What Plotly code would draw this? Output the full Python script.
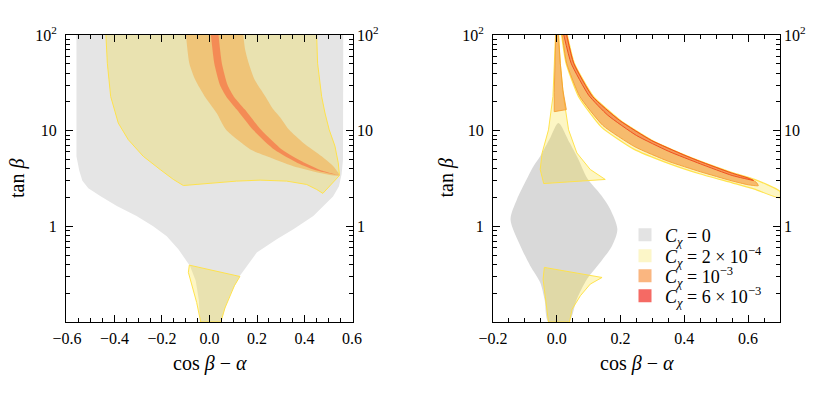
import plotly.graph_objects as go

# ---------------- data: left panel (cos(beta-alpha), tan beta) ----------------
L_GRAY_X = [-0.56, -0.56, -0.548, -0.535, -0.51, -0.46, -0.39, -0.307, -0.237, -0.18, -0.131, -0.082,
            -0.058, -0.045, -0.04, 0.048, 0.07, 0.09, 0.128, 0.157, 0.199, 0.283, 0.353, 0.437, 0.49,
            0.52, 0.545, 0.556, 0.562, 0.563]
L_GRAY_Y = [100, 5.4, 3.8, 3.0, 2.5, 2.07, 1.63, 1.28, 1.0, 0.79, 0.575, 0.386,
            0.27, 0.17, 0.1, 0.1, 0.15, 0.2, 0.304, 0.386, 0.532, 0.733, 0.93, 1.28, 1.75,
            2.05, 2.63, 3.5, 5.0, 100]

L_YEL_TOP_X = [-0.436, -0.43, -0.416, -0.384, -0.342, -0.279, -0.208, -0.152, -0.110, 0.002, 0.114,
               0.213, 0.325, 0.409, 0.451, 0.477, 0.547, 0.542, 0.528, 0.504, 0.486, 0.472, 0.462,
               0.455, 0.451]
L_YEL_TOP_Y = [100, 50.7, 22.8, 12.0, 8.06, 5.4, 3.93, 3.09, 2.67, 2.81, 2.97,
               3.04, 2.97, 2.74, 2.43, 2.21, 3.40, 4.6, 6.9, 10.2, 15.3, 22.8, 34,
               50.7, 100]

L_YEL_BOT_X = [-0.085, 0.128, 0.105, 0.086, 0.065, 0.048, -0.037, -0.054, -0.075, -0.089, -0.085]
L_YEL_BOT_Y = [0.393, 0.299, 0.24, 0.188, 0.14, 0.1, 0.1, 0.16, 0.239, 0.33, 0.393]

L_ORA_X = [-0.099, -0.085, -0.06, -0.02, 0.03, 0.07, 0.175, 0.241, 0.353, 0.465, 0.547,
           0.521, 0.472, 0.395, 0.335, 0.30, 0.269, 0.235, 0.19, 0.165, 0.15, 0.142]
L_ORA_Y = [100, 50.7, 34, 22.8, 15.3, 10.2, 6.3, 5.4, 4.25, 3.62, 3.4,
           4.25, 5.4, 7.45, 10.2, 13.5, 16.6, 22.8, 34, 50.7, 70, 100]

L_RED_X = [0.006, 0.02, 0.044, 0.07, 0.115, 0.183, 0.274, 0.37, 0.456, 0.547,
           0.468, 0.39, 0.306, 0.217, 0.149, 0.102, 0.076, 0.052, 0.038]
L_RED_Y = [100, 50.7, 30, 22.8, 16.6, 10.2, 6.3, 4.6, 3.8, 3.4,
           3.85, 4.75, 6.3, 10.2, 16.6, 22.8, 30, 50.7, 100]

# ---------------- data: right panel ----------------
R_GRAY_X = [0.005, -0.02, -0.052, -0.073, -0.1, -0.125, -0.145, -0.114, -0.083, -0.052, -0.038, -0.026,
            0.037, 0.063, 0.095, 0.136, 0.173, 0.19, 0.168, 0.14, 0.095, 0.068, 0.04, 0.005]
R_GRAY_Y = [12, 8.5, 5.4, 4.25, 2.85, 1.91, 1.18, 0.624, 0.386, 0.259, 0.17, 0.1,
            0.1, 0.174, 0.281, 0.419, 0.624, 0.93, 1.5, 2.1, 3.2, 5.0, 7.5, 12]

R_YEL_SPIKE_X = [-0.004, -0.007, -0.012, -0.026, -0.046, -0.052, -0.041, 0.152, 0.105, 0.063, 0.037,
                 0.021, 0.011, 0.006]
R_YEL_SPIKE_Y = [100, 50.7, 22.8, 10.2, 5.85, 3.93, 2.8, 3.09, 3.93, 5.85, 10.2, 22.8, 50.7, 100]

R_YEL_LOW_X = [-0.039, 0.142, 0.105, 0.074, 0.048, 0.04, -0.026, -0.036, -0.043, -0.039]
R_YEL_LOW_Y = [0.372, 0.292, 0.249, 0.188, 0.136, 0.1, 0.1, 0.186, 0.28, 0.372]

R_ORA_SPIKE_X = [-0.003, -0.006, -0.008, -0.008, 0.03, 0.019, 0.011, 0.005]
R_ORA_SPIKE_Y = [100, 50, 25, 15.8, 16.6, 26.7, 50.7, 100]

R_YEL_BAND_X = [0.033, 0.055, 0.115, 0.2, 0.3, 0.4, 0.45, 0.55, 0.62, 0.70,
                0.70, 0.62, 0.55, 0.45, 0.35, 0.24, 0.14, 0.068, 0.029, 0.015]
R_YEL_BAND_Y = [100, 50.7, 22.8, 12.8, 7.9, 5.6, 4.8, 3.65, 3.1, 2.32,
                1.98, 2.45, 2.85, 3.52, 4.55, 6.45, 10.9, 22.8, 50.7, 100]

R_ORA_BAND_X = [0.031, 0.053, 0.112, 0.197, 0.297, 0.397, 0.447, 0.547, 0.60, 0.625, 0.632,
                0.60, 0.55, 0.45, 0.35, 0.245, 0.145, 0.072, 0.031, 0.017]
R_ORA_BAND_Y = [100, 50.7, 22.8, 12.8, 7.9, 5.6, 4.8, 3.62, 3.18, 2.9, 2.66,
                2.72, 2.98, 3.72, 4.78, 6.78, 11.3, 22.8, 50.7, 100]

R_RED_BAND_X = [0.031, 0.053, 0.112, 0.197, 0.297, 0.397, 0.447, 0.547, 0.60, 0.617,
                0.55, 0.45, 0.35, 0.25, 0.16, 0.1, 0.045, 0.022]
R_RED_BAND_Y = [100, 50.7, 22.8, 12.8, 7.9, 5.6, 4.8, 3.62, 3.2, 3.02,
                3.4, 4.5, 6.1, 8.9, 14.5, 23.5, 50.7, 100]

# ---------------- ticks / labels ----------------
Y_TICKS = [0.1, 1, 10, 100]
Y_TICKTEXT = [" ", "1", "10", "10<sup>2</sup>"]
Y_MINOR = [m * 10.0 ** e for e in (-1, 0, 1) for m in range(2, 10)]
L_XTICKS = [-0.6, -0.4, -0.2, 0.0, 0.2, 0.4, 0.6]
L_XTICKTEXT = ["\u22120.6", "\u22120.4", "\u22120.2", "0.0", "0.2", "0.4", "0.6"]
R_XTICKS = [-0.2, 0.0, 0.2, 0.4, 0.6]
R_XTICKTEXT = ["\u22120.2", "0.0", "0.2", "0.4", "0.6"]
LEGEND_NAMES = ["<i>C</i><sub><i>\u03c7</i></sub> = 0",
                "<i>C</i><sub><i>\u03c7</i></sub> = 2 \u00d7 10<sup>\u22124</sup>",
                "<i>C</i><sub><i>\u03c7</i></sub> = 10<sup>\u22123</sup>",
                "<i>C</i><sub><i>\u03c7</i></sub> = 6 \u00d7 10<sup>\u22123</sup>"]
LEGEND_COLORS = ["rgb(227,227,227)", "rgb(252,246,200)", "rgb(250,182,128)", "rgb(245,106,100)"]
LEGEND_ROWS = [235, 256, 276, 296]

FONT = "Times New Roman"
NOLINE = "rgba(0,0,0,0)"
YEL_FILL = "rgba(248,220,20,0.25)"
YEL_LINE = "rgba(255,226,70,0.95)"
ORA_FILL = "rgba(246,165,63,0.5)"
ORA_FILL_R = "rgba(242,150,55,0.62)"
RED_FILL = "rgba(247,116,70,0.7)"
RED_FILL_R = "rgba(240,95,45,0.35)"

fig = go.Figure()


def region(x, y, fill, line, xa, ya, width=1.0, shape="linear", smoothing=1.0):
    fig.add_trace(go.Scatter(x=x, y=y, fill="toself", fillcolor=fill, mode="lines",
                             line=dict(color=line, width=width, shape=shape, smoothing=smoothing),
                             xaxis=xa, yaxis=ya, showlegend=False, hoverinfo="skip"))


# left panel
region(L_GRAY_X, L_GRAY_Y, "rgb(229,229,229)", NOLINE, "x", "y", 0)
region(L_YEL_TOP_X, L_YEL_TOP_Y, YEL_FILL, YEL_LINE, "x", "y", 1)
region(L_YEL_BOT_X, L_YEL_BOT_Y, YEL_FILL, YEL_LINE, "x", "y", 1)
region(L_ORA_X, L_ORA_Y, ORA_FILL, NOLINE, "x", "y", 0, "spline", 0.6)
region(L_RED_X, L_RED_Y, RED_FILL, NOLINE, "x", "y", 0, "spline", 0.6)

# right panel
region(R_GRAY_X, R_GRAY_Y, "rgb(217,217,217)", NOLINE, "x2", "y2", 0, "spline", 0.8)
region(R_YEL_SPIKE_X, R_YEL_SPIKE_Y, YEL_FILL, YEL_LINE, "x2", "y2", 1)
region(R_YEL_LOW_X, R_YEL_LOW_Y, YEL_FILL, YEL_LINE, "x2", "y2", 1)
region(R_ORA_SPIKE_X, R_ORA_SPIKE_Y, ORA_FILL_R, "rgba(245,160,50,0.9)", "x2", "y2", 1)
region(R_YEL_BAND_X, R_YEL_BAND_Y, YEL_FILL, YEL_LINE, "x2", "y2", 1.2, "spline", 0.5)
region(R_ORA_BAND_X, R_ORA_BAND_Y, ORA_FILL_R, "rgba(245,160,50,0.9)", "x2", "y2", 1, "spline", 0.5)
region(R_RED_BAND_X, R_RED_BAND_Y, RED_FILL_R, "rgba(238,70,25,0.9)", "x2", "y2", 1, "spline", 0.5)

# legend entries, one small legend per row
legend_layouts = {}
for i, (name, col, row) in enumerate(zip(LEGEND_NAMES, LEGEND_COLORS, LEGEND_ROWS)):
    key = "legend" if i == 0 else "legend%d" % (i + 1)
    fig.add_trace(go.Scatter(x=[None], y=[None], mode="markers", name=name,
                             marker=dict(symbol="square", size=13, color=col),
                             xaxis="x2", yaxis="y2", showlegend=True, legend=key))
    legend_layouts[key] = dict(x=625 / 830, y=1 - row / 393, xanchor="left", yanchor="middle",
                               bgcolor="rgba(0,0,0,0)", borderwidth=0,
                               font=dict(family=FONT, size=18, color="black"), itemwidth=30)

# invisible traces for right-hand tick label axes
fig.add_trace(go.Scatter(x=[None], y=[None], xaxis="x", yaxis="y3", showlegend=False, hoverinfo="skip"))
fig.add_trace(go.Scatter(x=[None], y=[None], xaxis="x2", yaxis="y4", showlegend=False, hoverinfo="skip"))

tickfont = dict(family=FONT, size=16, color="black")
YDOM = [1 - 322 / 393, 1 - 35 / 393]


def yax(domain_anchor):
    return dict(type="log", range=[-1, 2], domain=YDOM, anchor=domain_anchor, automargin=False,
                tickmode="array", tickvals=Y_TICKS, ticktext=Y_TICKTEXT,
                ticks="inside", ticklen=7, tickwidth=1, tickcolor="black",
                showline=True, linecolor="black", linewidth=1, mirror="ticks",
                showgrid=False, zeroline=False, tickfont=tickfont, ticklabelstandoff=5,
                minor=dict(tickmode="array", tickvals=Y_MINOR, ticks="inside", ticklen=4,
                           tickcolor="black", tickwidth=1, showgrid=False))


def xax(domain, rng, tv, tt, anchor):
    return dict(range=rng, domain=domain, anchor=anchor, automargin=False,
                tickmode="array", tickvals=tv, ticktext=tt,
                ticks="inside", ticklen=7, tickwidth=1, tickcolor="black",
                showline=True, linecolor="black", linewidth=1, mirror="ticks",
                showgrid=False, zeroline=False, tickfont=tickfont, ticklabelstandoff=2,
                minor=dict(dtick=0.05, tick0=0, ticks="inside", ticklen=4,
                           tickcolor="black", tickwidth=1, showgrid=False))


def yax_right(over, anchor):
    return dict(type="log", range=[-1, 2], domain=YDOM, overlaying=over, anchor=anchor, side="right",
                automargin=False, tickmode="array", tickvals=Y_TICKS, ticktext=Y_TICKTEXT, ticks="",
                showline=False, showgrid=False, zeroline=False, tickfont=tickfont,
                ticklabelstandoff=3)


annots = []
title_font = dict(family=FONT, size=20, color="black")
for cx in (209.5, 636.5):
    annots.append(dict(text="cos <i>\u03b2</i> \u2212 <i>\u03b1</i>", x=cx / 830, y=1 - 363 / 393,
                       xref="paper", yref="paper", showarrow=False, font=title_font,
                       xanchor="center", yanchor="middle"))
for cx in (17.5, 446.0):
    annots.append(dict(text="tan <i>\u03b2</i>", x=cx / 830, y=1 - 178.5 / 393,
                       xref="paper", yref="paper", showarrow=False, font=title_font,
                       textangle=-90, xanchor="center", yanchor="middle"))

fig.update_layout(
    width=830, height=393, margin=dict(l=0, r=0, t=0, b=0, autoexpand=False),
    paper_bgcolor="white", plot_bgcolor="white",
    font=dict(family=FONT, color="black"),
    xaxis=xax([66 / 830, 353 / 830], [-0.604, 0.604], L_XTICKS, L_XTICKTEXT, "y"),
    yaxis=yax("x"),
    xaxis2=xax([493 / 830, 780 / 830], [-0.2, 0.7], R_XTICKS, R_XTICKTEXT, "y2"),
    yaxis2=yax("x2"),
    yaxis3=yax_right("y", "x"),
    yaxis4=yax_right("y2", "x2"),
    showlegend=True,
    annotations=annots,
    **legend_layouts,
)

fig.write_html("out.html", config={"displayModeBar": False},
               post_script="document.body.style.margin='0px';")
